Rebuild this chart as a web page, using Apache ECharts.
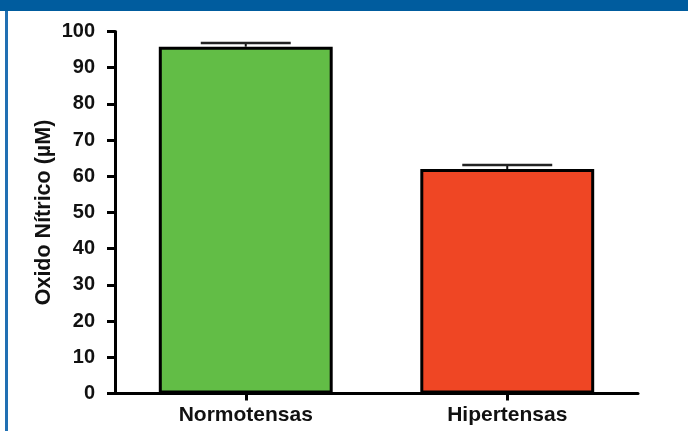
<!DOCTYPE html>
<html>
<head>
<meta charset="utf-8">
<script src="https://cdn.jsdelivr.net/npm/echarts@6/dist/echarts.min.js"></script>
<style>
  html, body { margin: 0; padding: 0; background: #fff; }
  #chart { width: 688px; height: 431px; }
</style>
</head>
<body>
<div id="chart"></div>
<script>
// Nitric oxide levels by group (mean ± error)
const categories = ['Normotensas', 'Hipertensas'];
const means = [95.8, 62.0];
const errors = [1.0, 1.1];
const barColors = ['#62BD46', '#EF4624'];
const yTicks = { min: 0, max: 100, interval: 10 };

const chart = echarts.init(document.getElementById('chart'), null, { renderer: 'canvas' });

const fontFamily = '"Liberation Sans", Arial, sans-serif';

chart.setOption({
  animation: false,
  backgroundColor: '#ffffff',
  graphic: [
    { type: 'rect', shape: { x: 0, y: 0, width: 688, height: 11 }, style: { fill: '#005C9E' }, z: 10 },
    { type: 'rect', shape: { x: 5, y: 11, width: 3, height: 420 }, style: { fill: '#2170B3' }, z: 10 }
  ],
  grid: { left: 115, right: 50, top: 31.5, bottom: 37.5, containLabel: false },
  xAxis: {
    type: 'category',
    data: categories,
    axisLine: { lineStyle: { color: '#000', width: 3 } },
    axisTick: { show: true, alignWithLabel: true, length: 7, lineStyle: { color: '#000', width: 3 } },
    axisLabel: { color: '#111', fontWeight: 'bold', fontSize: 21, fontFamily: fontFamily, margin: 11 },
    splitLine: { show: false }
  },
  yAxis: {
    type: 'value',
    min: yTicks.min,
    max: yTicks.max,
    interval: yTicks.interval,
    name: 'Oxido Nítrico (µM)',
    nameLocation: 'middle',
    nameGap: 60,
    nameMoveOverlap: false,
    nameTextStyle: { color: '#111', fontWeight: 'bold', fontSize: 21.5, fontFamily: fontFamily },
    axisLine: { show: true, lineStyle: { color: '#000', width: 3 } },
    axisTick: { show: true, inside: false, length: 8, lineStyle: { color: '#000', width: 3 } },
    axisLabel: { color: '#111', fontWeight: 'bold', fontSize: 20, fontFamily: fontFamily, margin: 20 },
    splitLine: { show: false }
  },
  series: [
    {
      type: 'bar',
      barWidth: '66.5%',
      data: means.map((v, i) => ({
        value: v,
        itemStyle: { color: barColors[i], borderColor: '#000', borderWidth: 3 }
      })),
      z: 2
    },
    {
      type: 'custom',
      z: 5,
      data: means.map((v, i) => [i, v, errors[i]]),
      renderItem: function (params, api) {
        const idx = api.value(0);
        const m = api.value(1);
        const e = api.value(2);
        const base = api.coord([idx, m]);
        const top = api.coord([idx, m + e]);
        const half = api.size([1, 0])[0] * 0.172;
        return {
          type: 'group',
          children: [
            {
              type: 'line',
              shape: { x1: base[0], y1: base[1], x2: top[0], y2: top[1] },
              style: { stroke: '#111', lineWidth: 2 }
            },
            {
              type: 'line',
              shape: { x1: top[0] - half, y1: top[1], x2: top[0] + half, y2: top[1] },
              style: { stroke: '#222', lineWidth: 2.5 }
            }
          ]
        };
      }
    }
  ]
});
</script>
</body>
</html>
